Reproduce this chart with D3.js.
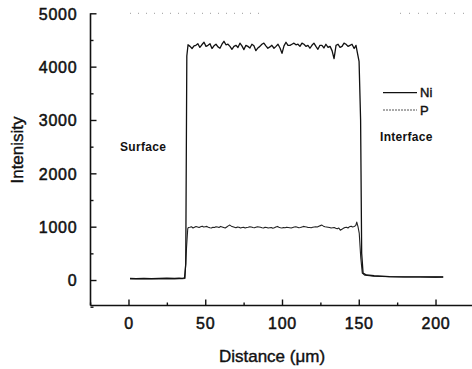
<!DOCTYPE html>
<html>
<head>
<meta charset="utf-8">
<script src="https://cdn.jsdelivr.net/npm/d3@7/dist/d3.min.js"></script>
<style>
  html, body { margin: 0; padding: 0; background: #fff; }
  svg { display: block; font-family: "Liberation Sans", Arial, sans-serif; }
</style>
</head>
<body>
<svg id="chart" width="472" height="369"></svg>
<script>
// ---- data ----
const xTicks = [0, 50, 100, 150, 200];
const xMinorTicks = [-25, 25, 75, 125, 175, 225];
const yTicks = [0, 1000, 2000, 3000, 4000, 5000];
const yMinorTicks = [-500, 500, 1500, 2500, 3500, 4500];

const niDistance = [1, 5, 10, 15, 20, 25, 30, 33, 35, 36.5, 37.3, 38.0,
  38.8, 40.1, 41.4, 42.7, 43.9, 45.2, 46.5, 47.8, 49.2, 50.5, 51.8, 53.1, 54.4, 55.7, 57, 58.3, 59.6,
  60.9, 62.2, 63.5, 64.8, 66.1, 67.4, 68.7, 70, 71.3, 72.6, 73.9, 75.2, 76.5, 77.8, 79.1, 80.4,
  81.7, 83, 84.3, 85.6, 86.9, 88.2, 89.5, 90.8, 92.1, 93.4, 94.8, 96.1, 97.4, 98.7, 100, 101.3,
  102.6, 103.9, 105.2, 106.5, 107.8, 109.1, 110.4, 111.7, 113, 114.3, 115.6, 116.9, 118.2, 119.5,
  120.8, 122.1, 123.4, 124.7, 126, 127.3, 128.6, 130, 131.3, 132.6, 133.9, 135.2, 136.5, 137.8,
  139.1, 140.4, 141.7, 143, 144.3, 145.6, 147, 148.2, 148.9, 150.2, 151.2, 151.9, 152.8, 155,
  160, 165, 170, 180, 190, 200, 205];
const niIntensity = [30, 28, 32, 28, 30, 33, 30, 35, 32, 40, 300, 4200,
  4410, 4380, 4340, 4390, 4400, 4430, 4360, 4410, 4457, 4380, 4400, 4430, 4340, 4390, 4420, 4370, 4345,
  4420, 4475, 4410, 4420, 4380, 4325, 4380, 4400, 4360, 4440, 4390, 4320, 4400, 4380, 4350, 4420,
  4390, 4300, 4350, 4380, 4420, 4440, 4390, 4345, 4370, 4400, 4345, 4380, 4420, 4350, 4250, 4390,
  4457, 4400, 4400, 4420, 4440, 4410, 4420, 4380, 4440, 4420, 4380, 4400, 4345, 4400,
  4440, 4380, 4325, 4400, 4400, 4350, 4420, 4360, 4380, 4300, 4150, 4400, 4420, 4360,
  4380, 4440, 4420, 4380, 4400, 4420, 4340, 4400, 4290, 4100, 3000, 500, 130, 95,
  80, 72, 65, 60, 58, 57, 58];

const pDistance = [1, 5, 10, 15, 20, 25, 30, 33, 35, 36.8, 37.8, 38.6,
  39, 40, 41, 42, 43, 44, 45, 46, 47, 48, 49, 50, 51, 52, 53, 54, 55, 56, 57, 58, 59,
  60, 61, 62, 63, 64, 65, 66, 67, 68, 69, 70, 71, 72, 73, 74, 75, 76, 77, 78, 79,
  80, 81, 82, 83, 84, 85, 86, 87, 88, 89, 90, 91, 92, 93, 94, 95, 96, 97, 98, 99,
  100, 101, 102, 103, 104, 105, 106, 107, 108, 109, 110, 111, 112, 113, 114, 115, 116, 117, 118, 119,
  120, 121, 122, 123, 124, 125, 126, 127, 128, 129, 130, 131, 132, 133, 134, 135, 136, 137, 138, 139,
  140, 141, 142, 143, 144, 145, 146, 147, 148, 148.7, 149.5, 150.3, 151.3, 152.3, 154,
  160, 170, 180, 190, 200, 205];
const pIntensity = [22, 20, 24, 20, 22, 25, 22, 26, 24, 30, 600, 960,
  985, 990, 1000, 975, 990, 1005, 995, 985, 1000, 1010, 995, 1000, 1005, 990, 980, 975, 990, 985, 1000, 995, 985,
  1005, 995, 985, 975, 995, 1015, 1030, 1010, 1000, 990, 980, 995, 990, 975, 985, 990, 975, 985, 990, 1000,
  995, 985, 980, 990, 1000, 995, 990, 980, 975, 990, 985, 975, 980, 985, 970, 980, 995, 1005, 990, 980,
  975, 985, 980, 990, 985, 980, 975, 985, 995, 1000, 990, 980, 985, 995, 1005, 1000, 995, 985, 985, 980,
  990, 995, 1000, 995, 1010, 1020, 1030, 1010, 1000, 995, 990, 985, 975, 980, 985, 970, 960, 975, 935, 950,
  970, 985, 990, 975, 1000, 1010, 995, 1005, 1020, 1086, 1000, 880, 420, 130, 90,
  70, 62, 58, 56, 55, 55];

const seriesNames = ["Ni", "P"];
const annotations = [
  { text: "Surface", x: 120, y: 151 },
  { text: "Interface", x: 380, y: 141 }
];

// ---- layout ----
const svg = d3.select("#chart");
const x = d3.scaleLinear().domain([-25, 225]).range([90.1, 473.9]);
const y = d3.scaleLinear().domain([-500, 5000]).range([306.7, 13.3]);
const axisX0 = 90.5, axisY0 = 305.5;
const ink = "#111";
const fmt = d3.format("d");

// faint dotted top frame (scan artifact)
svg.append("line")
  .attr("x1", 130).attr("x2", 262).attr("y1", y(5000)).attr("y2", y(5000))
  .attr("stroke", "#9a9a9a").attr("stroke-width", 1).attr("stroke-dasharray", "1,7");
svg.append("line")
  .attr("x1", 400).attr("x2", 472).attr("y1", y(5000)).attr("y2", y(5000))
  .attr("stroke", "#9a9a9a").attr("stroke-width", 1).attr("stroke-dasharray", "1,8");

// axes
const gx = svg.append("g").attr("transform", `translate(0,${axisY0})`)
  .call(d3.axisBottom(x).tickValues(xTicks).tickFormat(fmt).tickSizeInner(-6).tickSizeOuter(0).tickPadding(12));
const gxm = svg.append("g").attr("transform", `translate(0,${axisY0})`)
  .call(d3.axisBottom(x).tickValues(xMinorTicks).tickSizeInner(-3).tickSizeOuter(0).tickFormat(""));
const gy = svg.append("g").attr("transform", `translate(${axisX0},0)`)
  .call(d3.axisLeft(y).tickValues(yTicks).tickFormat(fmt).tickSizeInner(-6).tickSizeOuter(0).tickPadding(13));
const gym = svg.append("g").attr("transform", `translate(${axisX0},0)`)
  .call(d3.axisLeft(y).tickValues(yMinorTicks).tickSizeInner(-3).tickSizeOuter(0).tickFormat(""));

[gx, gxm, gy, gym].forEach(g => {
  g.select(".domain").attr("stroke", ink).attr("stroke-width", 1.6);
  g.selectAll(".tick line").attr("stroke", ink).attr("stroke-width", 1.4);
});
gy.select(".domain").attr("d", `M0,${y(5000)}V${axisY0}`);
gx.select(".domain").attr("d", `M${axisX0},0H472`);
gym.select(".domain").remove();
gxm.select(".domain").remove();

[gx, gy].forEach(g => g.selectAll(".tick text")
  .attr("fill", ink).attr("font-size", 16).attr("letter-spacing", 0.8)
  .attr("stroke", ink).attr("stroke-width", 0.5)
  .attr("font-family", "Liberation Sans, Arial, sans-serif"));
gy.selectAll(".tick text").attr("dy", "0.36em");

// axis titles
svg.append("text").attr("x", 272).attr("y", 362).attr("text-anchor", "middle")
  .attr("font-size", 17).attr("fill", ink).attr("stroke", ink).attr("stroke-width", 0.4)
  .text("Distance (μm)");
svg.append("text").attr("transform", "translate(23,150) rotate(-90)").attr("text-anchor", "middle")
  .attr("font-size", 17).attr("fill", ink).attr("stroke", ink).attr("stroke-width", 0.4)
  .text("Intenisity");

// lines
const line = d3.line().x(d => x(d[0])).y(d => y(d[1]));
const niData = niDistance.map((d, i) => [d, niIntensity[i]]);
const pData = pDistance.map((d, i) => [d, pIntensity[i]]);
svg.append("path").datum(pData).attr("d", line)
  .attr("fill", "none").attr("stroke", "#222").attr("stroke-width", 1.1).attr("stroke-linejoin", "round");
svg.append("path").datum(niData).attr("d", line)
  .attr("fill", "none").attr("stroke", ink).attr("stroke-width", 1.3).attr("stroke-linejoin", "round");

// legend
const legend = svg.append("g");
const legendRows = [
  { name: seriesNames[0], y: 92.7, dash: null, color: ink, w: 1.2 },
  { name: seriesNames[1], y: 110, dash: "2,1", color: "#555", w: 1 }
];
legendRows.forEach(r => {
  legend.append("line").attr("x1", 383).attr("x2", 417).attr("y1", r.y).attr("y2", r.y)
    .attr("stroke", r.color).attr("stroke-width", r.w).attr("stroke-dasharray", r.dash);
  legend.append("text").attr("x", 420).attr("y", r.y + 4.5).attr("font-size", 13)
    .attr("fill", ink).attr("stroke", ink).attr("stroke-width", 0.4).text(r.name);
});

// annotations
annotations.forEach(a => {
  svg.append("text").attr("x", a.x).attr("y", a.y).attr("font-size", 12)
    .attr("font-weight", "bold").attr("fill", ink).attr("letter-spacing", 0.3).text(a.text);
});
</script>
</body>
</html>
